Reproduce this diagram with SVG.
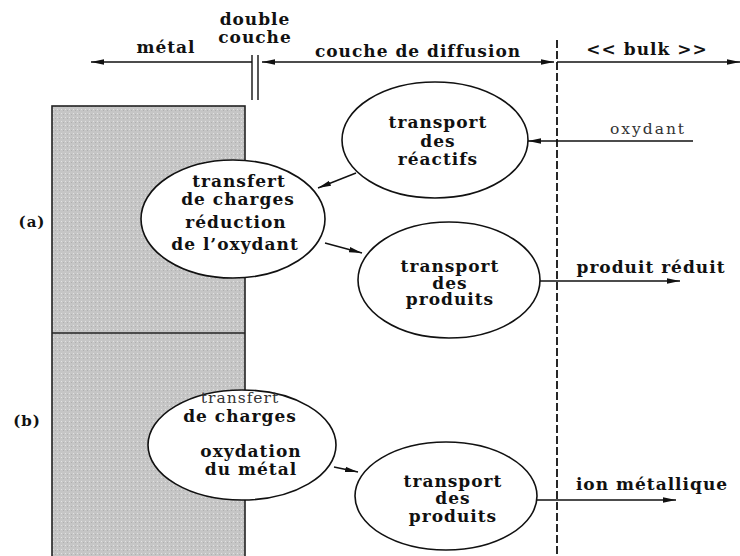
<svg xmlns="http://www.w3.org/2000/svg" width="740" height="556" viewBox="0 0 740 556">
<style>
.t{font-family:"DejaVu Serif","Liberation Serif",serif;font-weight:bold;font-size:17px;letter-spacing:1px;fill:#111;text-anchor:middle}
.l{font-family:"DejaVu Serif","Liberation Serif",serif;font-weight:normal;font-size:15.5px;fill:#333;text-anchor:middle;letter-spacing:2px}
.ln{stroke:#111;stroke-width:1.4;fill:none}
.el{fill:#fff;stroke:#111;stroke-width:1.6}
</style>
<defs>
<marker id="ah" viewBox="0 0 13 7" refX="13" refY="3.5" markerWidth="13" markerHeight="7" markerUnits="userSpaceOnUse" orient="auto">
<path d="M0,0.8 L13,3.5 L0,6.2 Z" fill="#111"/>
</marker>
<marker id="as" viewBox="0 0 13 7" refX="0" refY="3.5" markerWidth="13" markerHeight="7" markerUnits="userSpaceOnUse" orient="auto">
<path d="M13,0.8 L0,3.5 L13,6.2 Z" fill="#111"/>
</marker>
<pattern id="sp" width="4" height="4" patternUnits="userSpaceOnUse">
<rect width="4" height="4" fill="#c6c6c6"/>
<rect x="1" y="1" width="1" height="1" fill="#e2e2e2"/>
<rect x="3" y="2" width="1" height="1" fill="#b0b0b0"/>
</pattern>
</defs>

<g id="metal">
<rect x="52" y="106" width="193" height="460" fill="url(#sp)" stroke="#222" stroke-width="1.6"/>
<line x1="52" y1="333" x2="245" y2="333" stroke="#222" stroke-width="1.6"/>
</g>

<g id="header">
<text class="t" x="166" y="53">métal</text>
<text class="t" x="255" y="25">double</text>
<text class="t" x="255" y="43">couche</text>
<text class="t" x="418" y="57">couche de diffusion</text>
<text class="t" x="647" y="55">&lt;&lt; bulk &gt;&gt;</text>
<text class="t" x="32" y="227" style="font-size:15px">(a)</text>
<text class="t" x="27" y="426" style="font-size:15px">(b)</text>
</g>

<g id="connectors">
<line class="ln" x1="252" y1="62" x2="91" y2="62" marker-end="url(#ah)"/>
<line class="ln" x1="252" y1="55" x2="252" y2="100"/>
<line class="ln" x1="258" y1="55" x2="258" y2="100"/>
<line class="ln" x1="262" y1="62" x2="554" y2="62" marker-start="url(#as)" marker-end="url(#ah)"/>
<line class="ln" x1="557" y1="62" x2="740" y2="62" marker-end="url(#ah)"/>
<line x1="557" y1="40" x2="557" y2="556" stroke="#111" stroke-width="1.8" stroke-dasharray="8,3"/>
<line class="ln" x1="693" y1="141" x2="528" y2="141" marker-end="url(#ah)"/>
<line class="ln" x1="356" y1="173" x2="318" y2="188" marker-end="url(#ah)"/>
<line class="ln" x1="325" y1="243" x2="362" y2="253" marker-end="url(#ah)"/>
<line class="ln" x1="540" y1="281" x2="680" y2="281" marker-end="url(#ah)"/>
<line class="ln" x1="334" y1="467" x2="358" y2="472" marker-end="url(#ah)"/>
<line class="ln" x1="537" y1="500" x2="676" y2="500" marker-end="url(#ah)"/>
<text class="l" x="648" y="134">oxydant</text>
<text class="t" x="651" y="273">produit réduit</text>
<text class="t" x="652" y="490">ion métallique</text>
</g>

<g id="reactifs">
<ellipse class="el" cx="435" cy="140" rx="93" ry="58"/>
<text class="t" x="438" y="128">transport</text>
<text class="t" x="438" y="147">des</text>
<text class="t" x="438" y="165">réactifs</text>
</g>

<g id="transfert-a">
<ellipse class="el" cx="233" cy="219" rx="92" ry="59"/>
<text class="t" x="239" y="187">transfert</text>
<text class="t" x="238" y="205">de charges</text>
<text class="t" x="236" y="228">réduction</text>
<text class="t" x="235" y="250">de l’oxydant</text>
</g>

<g id="produits-a">
<ellipse class="el" cx="449" cy="280" rx="91" ry="58"/>
<text class="t" x="450" y="272">transport</text>
<text class="t" x="450" y="289">des</text>
<text class="t" x="450" y="305">produits</text>
</g>

<g id="transfert-b">
<ellipse class="el" cx="242" cy="445" rx="94" ry="55"/>
<text class="l" x="240" y="403" style="letter-spacing:1px">transfert</text>
<text class="t" x="240" y="422">de charges</text>
<text class="t" x="251" y="457">oxydation</text>
<text class="t" x="251" y="475">du métal</text>
</g>

<g id="produits-b">
<ellipse class="el" cx="446" cy="496" rx="91" ry="54"/>
<text class="t" x="453" y="487">transport</text>
<text class="t" x="453" y="504">des</text>
<text class="t" x="453" y="522">produits</text>
</g>
</svg>
